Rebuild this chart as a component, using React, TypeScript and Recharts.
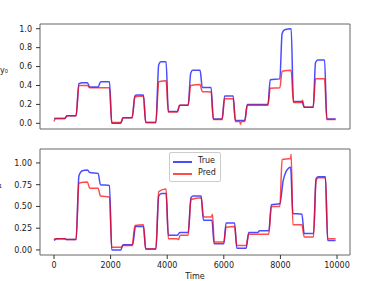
import { LineChart, Line, XAxis, YAxis, ReferenceArea } from "recharts"

// [time, value] breakpoints
const y0True: [number, number][] = [
  [0, 0.05], [380, 0.05], [460, 0.08], [780, 0.08], [880, 0.42], [1000, 0.43], [1180, 0.43],
  [1260, 0.385], [1560, 0.385], [1650, 0.44], [1960, 0.44], [2040, 0.0], [2360, 0.0],
  [2440, 0.06], [2760, 0.06], [2860, 0.29], [2920, 0.3], [3160, 0.3], [3240, 0.01], [3600, 0.01],
  [3700, 0.62], [3780, 0.65], [3960, 0.65], [4040, 0.125], [4360, 0.125], [4440, 0.19], [4740, 0.19],
  [4830, 0.53], [4900, 0.56], [5160, 0.56], [5240, 0.38], [5550, 0.38], [5630, 0.045], [5940, 0.045],
  [6030, 0.29], [6330, 0.29], [6410, 0.03], [6740, 0.03], [6830, 0.2], [7560, 0.2], [7640, 0.46],
  [7980, 0.47], [8060, 0.95], [8150, 0.99], [8380, 1.0], [8460, 0.23], [8760, 0.23], [8840, 0.17],
  [9160, 0.17], [9240, 0.64], [9320, 0.67], [9560, 0.67], [9640, 0.045], [9950, 0.045],
]

const y0Pred: [number, number][] = [
  [0, 0.02], [60, 0.05], [380, 0.05], [460, 0.08], [780, 0.08], [880, 0.4], [1180, 0.4],
  [1260, 0.375], [1960, 0.375], [2040, 0.01], [2360, 0.01], [2440, 0.06], [2760, 0.06],
  [2860, 0.28], [3160, 0.29], [3240, 0.01], [3600, 0.01], [3700, 0.44], [3960, 0.45], [4040, 0.12],
  [4360, 0.12], [4440, 0.19], [4740, 0.19], [4830, 0.4], [5160, 0.41], [5240, 0.335], [5550, 0.33],
  [5630, 0.04], [5940, 0.04], [6030, 0.26], [6330, 0.26], [6410, 0.02], [6560, 0.02], [6590, -0.01],
  [6620, 0.02], [6740, 0.02], [6830, 0.19], [7560, 0.19], [7640, 0.37], [7980, 0.375], [8060, 0.55],
  [8380, 0.56], [8460, 0.22], [8760, 0.22], [8780, 0.245], [8840, 0.17], [9160, 0.17], [9240, 0.47],
  [9560, 0.47], [9640, 0.04], [9950, 0.04],
]

const y1True: [number, number][] = [
  [0, 0.11], [100, 0.13], [380, 0.13], [440, 0.12], [780, 0.12], [880, 0.85], [1000, 0.91],
  [1180, 0.92], [1260, 0.89], [1560, 0.88], [1640, 0.75], [1960, 0.74], [2040, 0.0], [2360, 0.0],
  [2440, 0.06], [2780, 0.06], [2880, 0.27], [3160, 0.27], [3240, 0.01], [3600, 0.01], [3700, 0.62],
  [3800, 0.65], [3960, 0.65], [4040, 0.17], [4360, 0.17], [4440, 0.2], [4740, 0.2], [4840, 0.6],
  [4920, 0.62], [5200, 0.62], [5280, 0.34], [5580, 0.34], [5660, 0.07], [6000, 0.07], [6080, 0.31],
  [6380, 0.31], [6460, 0.02], [6790, 0.02], [6880, 0.2], [7200, 0.2], [7260, 0.22], [7590, 0.22],
  [7680, 0.52], [7980, 0.53], [8100, 0.8], [8200, 0.9], [8360, 0.95], [8440, 0.42], [8760, 0.41],
  [8840, 0.19], [9170, 0.19], [9260, 0.82], [9340, 0.84], [9590, 0.84], [9670, 0.11], [9950, 0.11],
]

const y1Pred: [number, number][] = [
  [0, 0.12], [60, 0.13], [380, 0.13], [440, 0.12], [780, 0.12], [880, 0.77], [1180, 0.78],
  [1260, 0.71], [1560, 0.71], [1640, 0.62], [1960, 0.61], [2040, 0.03], [2360, 0.03], [2440, 0.05],
  [2760, 0.05], [2860, 0.28], [3160, 0.29], [3240, 0.01], [3600, 0.01], [3700, 0.67], [3960, 0.7],
  [4040, 0.13], [4340, 0.13], [4400, 0.12], [4460, 0.17], [4740, 0.17], [4840, 0.58], [5200, 0.6],
  [5280, 0.38], [5560, 0.38], [5600, 0.41], [5660, 0.09], [6000, 0.09], [6080, 0.26], [6380, 0.27],
  [6460, 0.05], [6790, 0.05], [6880, 0.18], [7590, 0.18], [7680, 0.5], [7980, 0.5], [8060, 1.04],
  [8360, 1.05], [8380, 1.1], [8440, 0.29], [8760, 0.29], [8840, 0.15], [9170, 0.15], [9260, 0.8],
  [9340, 0.83], [9590, 0.83], [9670, 0.13], [9950, 0.13],
]

const timeTicks = [0, 2000, 4000, 6000, 8000, 10000]
const y0Ticks = [0, 0.2, 0.4, 0.6, 0.8, 1.0]
const y1Ticks = [0, 0.25, 0.5, 0.75, 1.0]

const timeDomain: [number, number] = [-495, 10459]
const y0Domain: [number, number] = [-0.06, 1.05]
const y1Domain: [number, number] = [-0.058, 1.16]

const font = "'DejaVu Sans', sans-serif"
const blue = "#0000ff"
const red = "#ff0000"
const tickStyle = { fontSize: 8, fill: "#222", fontFamily: font }

const toPoints = (arr: [number, number][]) => arr.map(([t, v]) => ({ t, v }))

type PanelProps = {
  trueData: [number, number][]
  predData: [number, number][]
  yDomain: [number, number]
  yTicks: number[]
  digits: number
  height: number
  top: number
  bottom: number
  showTimeLabels: boolean
}

function Panel({ trueData, predData, yDomain, yTicks, digits, height, top, bottom, showTimeLabels }: PanelProps) {
  return (
    <LineChart width={383} height={height} margin={{ top, right: 33, bottom: bottom - 1, left: 39 }}>
      <XAxis
        dataKey="t"
        type="number"
        domain={timeDomain}
        ticks={timeTicks}
        allowDataOverflow
        height={1}
        axisLine={false}
        tickLine={{ stroke: "#333" }}
        tickSize={4}
        tickMargin={3}
        tick={showTimeLabels ? tickStyle : false}
        interval={0}
      />
      <YAxis
        type="number"
        domain={yDomain}
        ticks={yTicks}
        allowDataOverflow
        width={1}
        axisLine={false}
        tickLine={{ stroke: "#333" }}
        tickSize={4}
        tickMargin={4}
        tick={tickStyle}
        interval={0}
        tickFormatter={(v: number) => v.toFixed(digits)}
      />
      <ReferenceArea
        x1={timeDomain[0]}
        x2={timeDomain[1]}
        y1={yDomain[0]}
        y2={yDomain[1]}
        fill="none"
        stroke="#666"
        strokeWidth={1}
      />
      <Line
        data={toPoints(trueData)}
        dataKey="v"
        type="monotone"
        stroke={blue}
        strokeOpacity={0.7}
        strokeWidth={1.5}
        dot={false}
        isAnimationActive={false}
      />
      <Line
        data={toPoints(predData)}
        dataKey="v"
        type="monotone"
        stroke={red}
        strokeOpacity={0.7}
        strokeWidth={1.5}
        dot={false}
        isAnimationActive={false}
      />
    </LineChart>
  )
}

const textStyle = { position: "absolute" as const, fontFamily: font, fontSize: 8, color: "#222", lineHeight: "10px" }

export default function App() {
  return (
    <div style={{ position: "absolute", left: 0, top: 0, width: 383, height: 281, background: "#fff", overflow: "hidden" }}>
      <div style={{ position: "absolute", left: 0, top: 0 }}>
        <Panel trueData={y0True} predData={y0Pred} yDomain={y0Domain} yTicks={y0Ticks} digits={1}
          height={140} top={24} bottom={11} showTimeLabels={false} />
      </div>
      <div style={{ position: "absolute", left: 0, top: 140 }}>
        <Panel trueData={y1True} predData={y1Pred} yDomain={y1Domain} yTicks={y1Ticks} digits={2}
          height={141} top={9} bottom={26} showTimeLabels />
      </div>
      <div style={{ ...textStyle, right: 375, top: 66, whiteSpace: "nowrap" }}>y₀</div>
      <div style={{ ...textStyle, right: 381, top: 181, whiteSpace: "nowrap" }}>y₁</div>
      <div style={{ ...textStyle, left: 175, width: 40, top: 272, textAlign: "center" }}>Time</div>
      <div style={{
        position: "absolute", left: 169, top: 152, width: 50, height: 28,
        border: "1px solid #ccc", borderRadius: 2, background: "rgba(255,255,255,0.8)",
        fontFamily: font, fontSize: 8, color: "#222",
      }}>
        <div style={{ position: "absolute", left: 3, top: 8, width: 19, height: 1.5, background: blue, opacity: 0.7 }} />
        <div style={{ position: "absolute", left: 28, top: 3, lineHeight: "10px" }}>True</div>
        <div style={{ position: "absolute", left: 3, top: 20, width: 19, height: 1.5, background: red, opacity: 0.7 }} />
        <div style={{ position: "absolute", left: 28, top: 15, lineHeight: "10px" }}>Pred</div>
      </div>
    </div>
  )
}
